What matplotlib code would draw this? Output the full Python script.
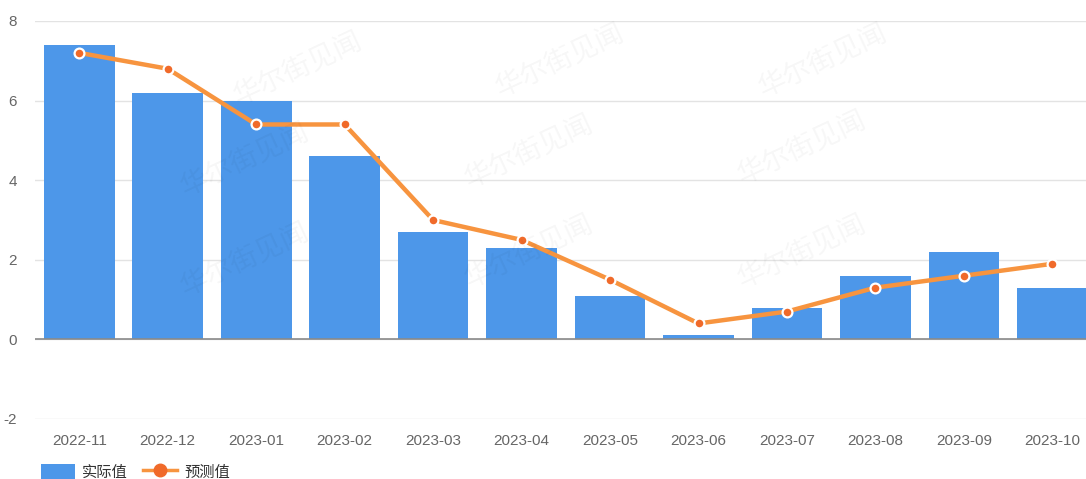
import matplotlib.pyplot as plt
from matplotlib.patches import Patch
from matplotlib.lines import Line2D

plt.rcParams['font.family'] = ['Liberation Sans', 'Noto Sans CJK SC', 'DejaVu Sans']
plt.rcParams['axes.unicode_minus'] = False

months = ['2022-11', '2022-12', '2023-01', '2023-02', '2023-03', '2023-04',
          '2023-05', '2023-06', '2023-07', '2023-08', '2023-09', '2023-10']
actual = [7.4, 6.2, 6.0, 4.6, 2.7, 2.3, 1.1, 0.1, 0.8, 1.6, 2.2, 1.3]
forecast = [7.2, 6.8, 5.4, 5.4, 3.0, 2.5, 1.5, 0.4, 0.7, 1.3, 1.6, 1.9]
yticks = [-2, 0, 2, 4, 6, 8]

bar_color = '#4D97E9'
line_color = '#F7943F'
dot_color = '#F06A2A'

fig = plt.figure(figsize=(10.86, 4.79), dpi=100)
ax = fig.add_axes([35 / 1086, 60 / 479, 1 - 35 / 1086, 398 / 479])

x = list(range(len(months)))
ax.bar(x, actual, width=0.8, color=bar_color, zorder=2)
ax.plot(x, forecast, color=line_color, linewidth=3.2, zorder=3,
        solid_joinstyle='round')
ax.scatter(x, forecast, s=50, color=dot_color, edgecolors='white',
           linewidths=1.6, zorder=4)

ax.set_ylim(-2, 8)
ax.set_xlim(-0.5, 11.38)
ax.set_yticks(yticks)
ax.set_xticks(x)
ax.set_xticklabels(months)
ax.tick_params(axis='both', length=0, labelsize=11, colors='#666666')
ax.tick_params(axis='x', pad=11)
ax.tick_params(axis='y', pad=13)

ax.grid(axis='y', color='#E3E3E3', linewidth=1, zorder=0)
ax.axhline(0, color='#8A8A8A', linewidth=1.2, zorder=2.5)
for s in ax.spines.values():
    s.set_visible(False)

# faint watermarks
for wx, wy in [(0.25, 0.88), (0.5, 0.9), (0.75, 0.9), (0.2, 0.65), (0.47, 0.67),
               (0.73, 0.68), (0.2, 0.4), (0.47, 0.42), (0.73, 0.42)]:
    ax.text(wx, wy, '华尔街见闻', transform=ax.transAxes, fontsize=20,
            color='#000000', alpha=0.035, rotation=25, ha='center', va='center',
            zorder=5, family=['Noto Sans CJK SC'])

handles = [Patch(facecolor=bar_color, label='实际值'),
           Line2D([0], [0], color=line_color, linewidth=2.5, marker='o',
                  markersize=9, markerfacecolor=dot_color,
                  markeredgecolor=dot_color, label='预测值')]
fig.legend(handles=handles, loc='lower left', bbox_to_anchor=(0.025, -0.03),
           ncol=2, frameon=False, fontsize=11, handlelength=2.2,
           handleheight=1.1, columnspacing=1.0, handletextpad=0.5,
           labelcolor='#333333')

fig.savefig('out.png', dpi=100)
